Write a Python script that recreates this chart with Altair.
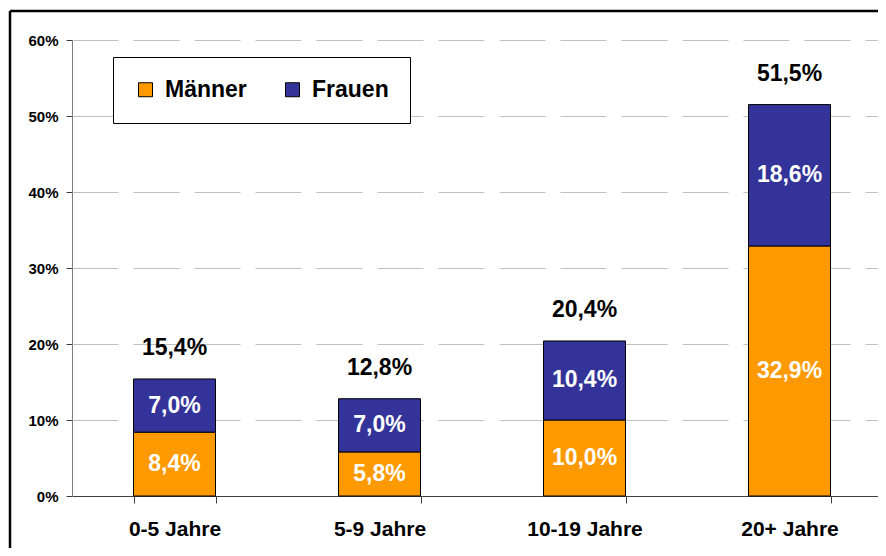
import altair as alt
import pandas as pd

categories = ["0-5 Jahre", "5-9 Jahre", "10-19 Jahre", "20+ Jahre"]
maenner = [8.4, 5.8, 10.0, 32.9]
frauen = [7.0, 7.0, 10.4, 18.6]
totals = [15.4, 12.8, 20.4, 51.5]
series = ["Männer", "Frauen"]
colors = ["#FF9900", "#333399"]
y_ticks = [0, 10, 20, 30, 40, 50, 60]


def de(v):
    return f"{v:.1f}".replace(".", ",") + "%"


rows = []
for i, c in enumerate(categories):
    m, f = maenner[i], frauen[i]
    rows.append(dict(cat=c, serie="Männer", start=0.0, end=m, mid=m / 2, label=de(m)))
    rows.append(dict(cat=c, serie="Frauen", start=m, end=m + f, mid=m + f / 2, label=de(f)))
seg = pd.DataFrame(rows)
tot = pd.DataFrame(dict(cat=categories, total=totals, label=[de(t) for t in totals]))
frame_df = pd.DataFrame({"a": [0]})

W, H = 806, 456
FONT = "Liberation Sans"

xenc = alt.X(
    "cat:N",
    sort=categories,
    title=None,
    scale=alt.Scale(domain=categories, range=[0, 820], paddingInner=0.6, paddingOuter=0.3),
    axis=alt.Axis(
        labelFont=FONT, labelFontSize=21, labelFontWeight="bold", labelColor="black",
        labelAngle=0, labelPadding=15, tickBand="extent", ticks=True, tickSize=7,
        tickColor="#404040", domainColor="#404040", domainWidth=1.2, grid=False,
    ),
)
yscale = alt.Scale(domain=[0, 60], nice=False, zero=True)
yaxis = alt.Axis(
    values=y_ticks, title=None, labelExpr="datum.value + '%'",
    labelFont=FONT, labelFontSize=15, labelFontWeight="bold", labelColor="black",
    labelPadding=8, tickSize=6, tickColor="#404040", domainColor="#808080",
    grid=True, gridColor="#C0C0C0", gridDash=[46, 15], gridWidth=1,
)

bars = alt.Chart(seg).mark_bar(stroke="black", strokeWidth=1).encode(
    x=xenc,
    y=alt.Y("start:Q", scale=yscale, axis=yaxis),
    y2="end:Q",
    color=alt.Color(
        "serie:N",
        scale=alt.Scale(domain=series, range=colors),
        legend=alt.Legend(
            title=None, orient="none", legendX=41, legendY=17, direction="horizontal",
            symbolType="square", symbolSize=196, symbolStrokeColor="black",
            symbolStrokeWidth=1, symbolOpacity=1,
            labelFont=FONT, labelFontSize=23, labelFontWeight="bold", labelColor="black",
            labelOffset=8, columnPadding=34, strokeColor="black", fillColor="white",
            padding=21,
        ),
    ),
)

seg_text = alt.Chart(seg).mark_text(
    color="white", fontSize=23, fontWeight="bold", font=FONT, baseline="middle"
).encode(x=xenc, y=alt.Y("mid:Q", scale=yscale, axis=yaxis), text="label:N")

tot_text = alt.Chart(tot).mark_text(
    color="black", fontSize=23, fontWeight="bold", font=FONT, baseline="middle", dy=-31
).encode(x=xenc, y=alt.Y("total:Q", scale=yscale, axis=yaxis), text="label:N")

frame_v = alt.Chart(frame_df).mark_rule(color="black", strokeWidth=2.5).encode(
    x=alt.value(-62), y=alt.value(-29), y2=alt.value(H + 80)
)
frame_h = alt.Chart(frame_df).mark_rule(color="black", strokeWidth=2.5).encode(
    y=alt.value(-29), x=alt.value(-62), x2=alt.value(W + 40)
)

chart = alt.layer(bars, seg_text, tot_text, frame_v, frame_h).properties(
    width=W, height=H,
    autosize=alt.AutoSizeParams(type="none"),
    padding={"left": 64, "top": 32, "right": 0, "bottom": 52},
    background="white",
).configure_view(stroke=None)

chart.save("out.html", embed_options={"renderer": "svg", "actions": False})
